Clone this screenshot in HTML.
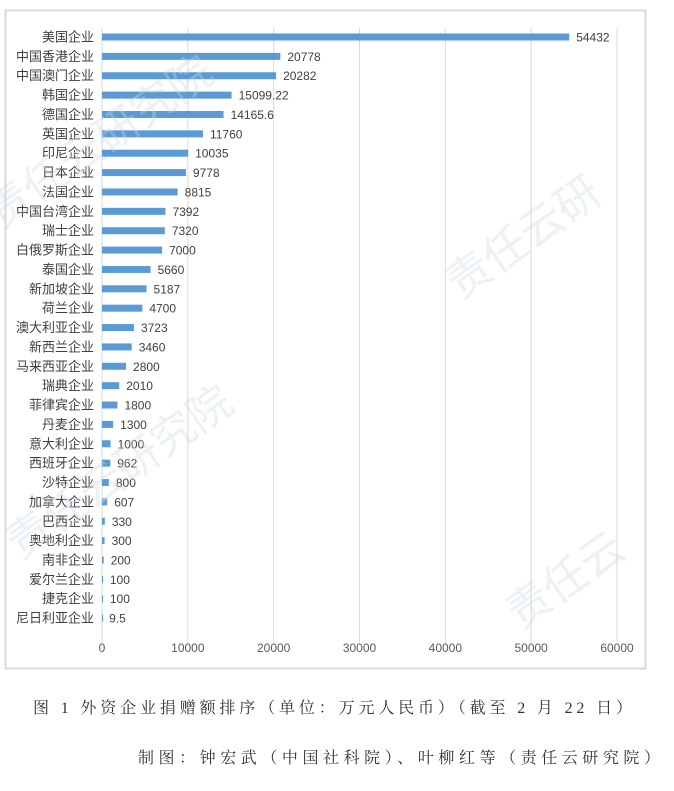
<!DOCTYPE html>
<html><head><meta charset="utf-8"><style>
body{margin:0;background:#fff;width:674px;height:791px;overflow:hidden;font-family:"Liberation Sans","Noto Sans CJK SC",sans-serif}
</style></head><body>
<svg id="chart" width="674" height="791" style="position:absolute;left:0;top:0">
<rect x="5.5" y="10.5" width="640" height="658" fill="#fff" stroke="#d9d9d9" stroke-width="2"/>
<g id="grid"></g><g id="bars"></g><g id="labels"></g>
<g fill="#c8d6e6" opacity="0.35" font-size="44" font-family="Noto Sans CJK SC,sans-serif">
<text x="0" y="230" transform="rotate(-35 0 230)">责任云研究院</text>
<text x="460" y="300" transform="rotate(-35 460 300)">责任云研</text>
<text x="20" y="560" transform="rotate(-35 20 560)">责任云研究院</text>
<text x="520" y="630" transform="rotate(-35 520 630)">责任云</text>
</g>
<text x="33" y="713" textLength="599" lengthAdjust="spacing" font-size="16" fill="#333" font-family="Liberation Serif,Noto Serif CJK SC,serif">图 1 外资企业捐赠额排序（单位：万元人民币）（截至 2 月 22 日）</text>
<text x="138" y="763" textLength="522" lengthAdjust="spacing" font-size="16" fill="#333" font-family="Liberation Serif,Noto Serif CJK SC,serif">制图：钟宏武（中国社科院）、叶柳红等（责任云研究院）</text>
</svg>
<script>
const categories=["美国企业","中国香港企业","中国澳门企业","韩国企业","德国企业","英国企业","印尼企业","日本企业","法国企业","中国台湾企业","瑞士企业","白俄罗斯企业","泰国企业","新加坡企业","荷兰企业","澳大利亚企业","新西兰企业","马来西亚企业","瑞典企业","菲律宾企业","丹麦企业","意大利企业","西班牙企业","沙特企业","加拿大企业","巴西企业","奥地利企业","南非企业","爱尔兰企业","捷克企业","尼日利亚企业"];
const values=[54432,20778,20282,15099.22,14165.6,11760,10035,9778,8815,7392,7320,7000,5660,5187,4700,3723,3460,2800,2010,1800,1300,1000,962,800,607,330,300,200,100,100,9.5];
const valueLabels=["54432","20778","20282","15099.22","14165.6","11760","10035","9778","8815","7392","7320","7000","5660","5187","4700","3723","3460","2800","2010","1800","1300","1000","962","800","607","330","300","200","100","100","9.5"];
const ticks=[0,10000,20000,30000,40000,50000,60000];
const NS="http://www.w3.org/2000/svg";
const x=v=>102+v/60000*515;
const y=i=>37+i*19.37;
function mk(p,t,a){const e=document.createElementNS(NS,t);for(const k in a)e.setAttribute(k,a[k]);p.appendChild(e);return e;}
const G=document.getElementById('grid'),B=document.getElementById('bars'),L=document.getElementById('labels');
ticks.forEach(t=>{
 const l=mk(G,'line',{x1:x(t),x2:x(t),y1:28,y2:643,stroke:'#d9d9d9','stroke-width':1});
 
 
 const tx=mk(G,'text',{x:x(t),y:652,'text-anchor':'middle','font-size':12,fill:'#595959'});
 tx.textContent=t;
 
 
});
categories.forEach((c,i)=>{
 const r=mk(B,'rect',{x:x(0),y:y(i)-3.5,width:Math.max(1,x(values[i])-x(0)),height:7,fill:'#5b9bd5'});
 
 
 const cl=mk(L,'text',{x:94,y:y(i)+4.5,'text-anchor':'end','font-size':13,fill:'#404040'});
 cl.textContent=c;
 
 
 const vl=mk(L,'text',{x:x(values[i])+7,y:y(i)+4.5,'font-size':12,fill:'#404040'});
 vl.textContent=valueLabels[i];
 
 
});
</script>
</body></html>
